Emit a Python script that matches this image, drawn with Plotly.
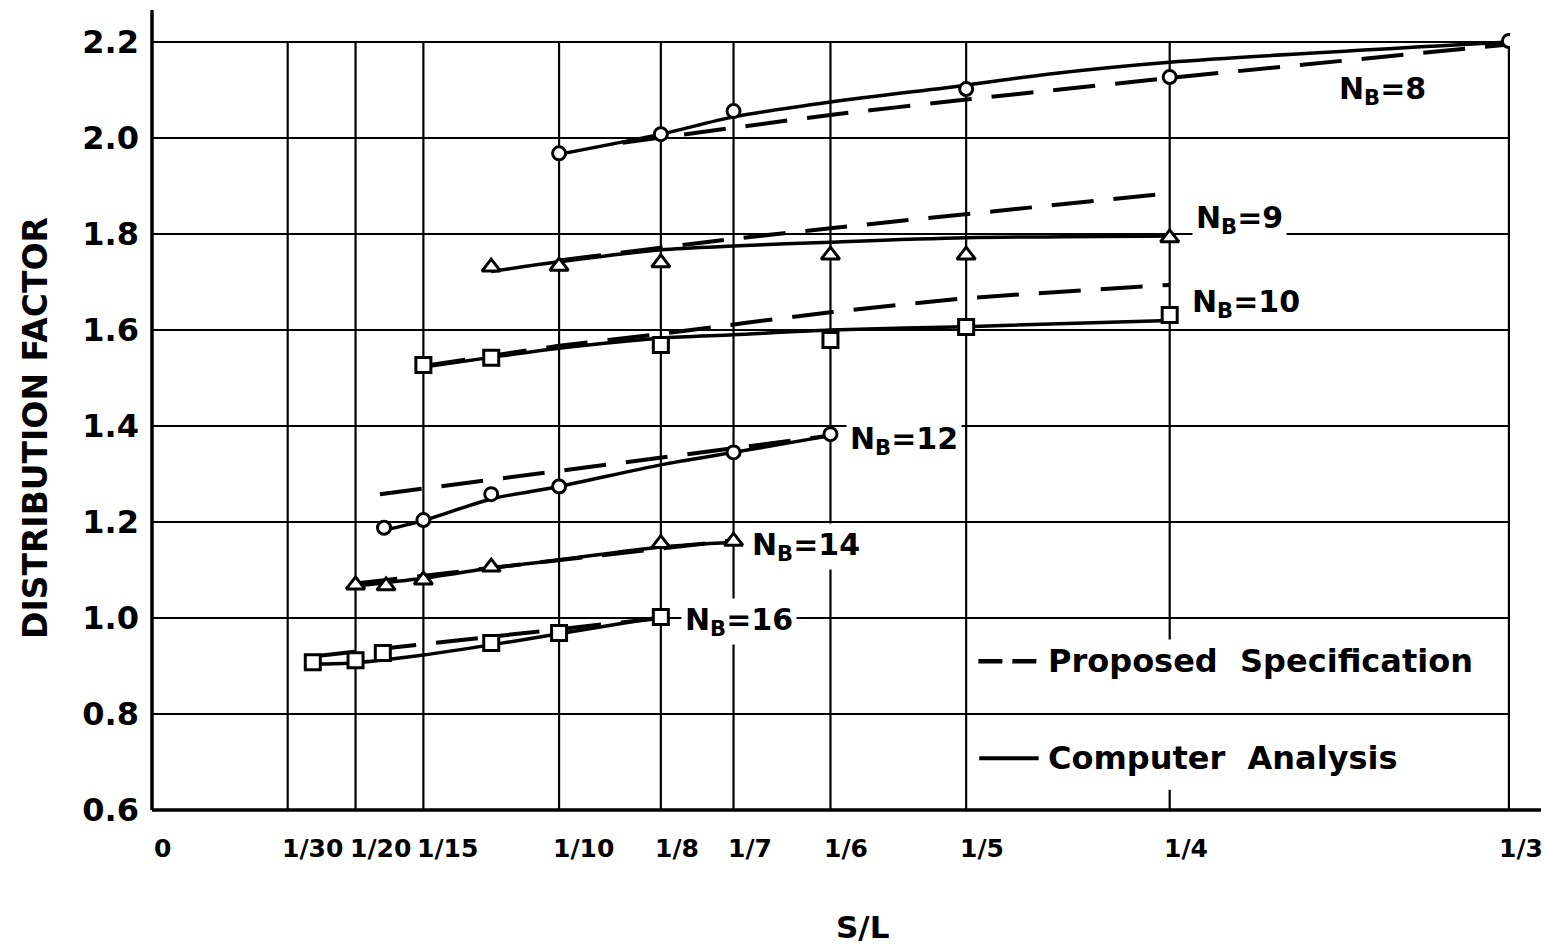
import plotly.graph_objects as go

# ---- axis ticks -------------------------------------------------------
SL_TICKS = [0, 1/30, 1/20, 1/15, 1/10, 1/8, 1/7, 1/6, 1/5, 1/4, 1/3]
SL_TICK_TEXT = ["0", "1/30", "1/20", "1/15", "1/10", "1/8", "1/7", "1/6", "1/5", "1/4", "1/3"]
DF_TICKS = [0.6, 0.8, 1.0, 1.2, 1.4, 1.6, 1.8, 2.0, 2.2]
DF_TICK_TEXT = ["0.6", "0.8", "1.0", "1.2", "1.4", "1.6", "1.8", "2.0", "2.2"]

# ---- N_B = 8 (circles) ------------------------------------------------
nb8_pts_x = [1/10, 1/8, 1/7, 1/5, 1/4, 1/3]
nb8_pts_y = [1.968, 2.008, 2.056, 2.102, 2.127, 2.202]
nb8_comp_x = [1/10, 1/8, 1/7, 1/6, 1/5, 0.22, 1/4, 1/3]
nb8_comp_y = [1.966, 2.008, 2.044, 2.075, 2.110, 2.133, 2.158, 2.200]
nb8_spec_x = [0.1156, 1/6, 1/5, 1/4, 1/3]
nb8_spec_y = [1.990, 2.048, 2.080, 2.125, 2.195]

# ---- N_B = 9 (triangles) ----------------------------------------------
nb9_pts_x = [1/12, 1/10, 1/8, 1/6, 1/5, 1/4]
nb9_pts_y = [1.731, 1.733, 1.740, 1.756, 1.756, 1.792]
nb9_comp_x = [1/12, 1/10, 1/8, 1/7, 1/6, 1/5, 1/4]
nb9_comp_y = [1.722, 1.742, 1.767, 1.775, 1.783, 1.792, 1.796]
nb9_spec_x = [1/10, 1/7, 1/6, 1/4]
nb9_spec_y = [1.745, 1.790, 1.812, 1.885]

# ---- N_B = 10 (squares) -----------------------------------------------
nb10_pts_x = [1/15, 1/12, 1/8, 1/6, 1/5, 1/4]
nb10_pts_y = [1.527, 1.542, 1.569, 1.579, 1.606, 1.631]
nb10_comp_x = [1/15, 1/12, 1/10, 1/8, 1/7, 1/6, 1/5, 1/4]
nb10_comp_y = [1.523, 1.543, 1.562, 1.583, 1.590, 1.600, 1.607, 1.620]
nb10_spec_x = [1/15, 1/10, 1/8, 1/6, 1/5, 1/4]
nb10_spec_y = [1.525, 1.567, 1.592, 1.637, 1.666, 1.694]

# ---- N_B = 12 (circles) -----------------------------------------------
nb12_pts_x = [0.057, 1/15, 1/12, 1/10, 1/7, 1/6]
nb12_pts_y = [1.188, 1.204, 1.258, 1.274, 1.345, 1.383]
nb12_comp_x = [0.057, 1/15, 1/12, 1/10, 1/8, 1/7, 1/6]
nb12_comp_y = [1.183, 1.203, 1.248, 1.274, 1.319, 1.345, 1.380]
nb12_spec_x = [0.056, 1/6]
nb12_spec_y = [1.258, 1.380]

# ---- N_B = 14 (triangles) ---------------------------------------------
nb14_pts_x = [1/20, 0.0575, 1/15, 1/12, 1/8, 1/7]
nb14_pts_y = [1.069, 1.067, 1.079, 1.106, 1.155, 1.160]
nb14_comp_x = [1/20, 1/15, 1/12, 1/10, 1/8, 1/7]
nb14_comp_y = [1.067, 1.083, 1.104, 1.121, 1.148, 1.158]
nb14_spec_x = [1/20, 1/7]
nb14_spec_y = [1.072, 1.162]

# ---- N_B = 16 (squares) -----------------------------------------------
nb16_pts_x = [0.0395, 1/20, 0.0567, 1/12, 1/10, 1/8]
nb16_pts_y = [0.908, 0.912, 0.927, 0.948, 0.969, 1.002]
nb16_comp_x = [0.0395, 1/20, 1/15, 1/12, 1/10, 1/8]
nb16_comp_y = [0.904, 0.907, 0.923, 0.944, 0.967, 1.002]
nb16_spec_x = [0.0395, 1/8]
nb16_spec_y = [0.920, 1.000]

# ---- curve labels -----------------------------------------------------
label_text = ["8", "9", "10", "12", "14", "16"]
label_x = [0.2905, 0.2555, 0.2545, 0.1705, 0.1465, 0.1300]
label_y = [2.098, 1.830, 1.655, 1.370, 1.148, 0.992]

FONT = "DejaVu Sans"
INK = "black"
X_MAX = 0.3336          # a hair past 1/3 so its grid line is kept inside
Y_MIN, Y_MAX = 0.6, 0.6 + 800 / 480

series = [
    (nb8_pts_x, nb8_pts_y, nb8_comp_x, nb8_comp_y, nb8_spec_x, nb8_spec_y, "circle", 13),
    (nb9_pts_x, nb9_pts_y, nb9_comp_x, nb9_comp_y, nb9_spec_x, nb9_spec_y, "triangle-up", 16),
    (nb10_pts_x, nb10_pts_y, nb10_comp_x, nb10_comp_y, nb10_spec_x, nb10_spec_y, "square", 15),
    (nb12_pts_x, nb12_pts_y, nb12_comp_x, nb12_comp_y, nb12_spec_x, nb12_spec_y, "circle", 13),
    (nb14_pts_x, nb14_pts_y, nb14_comp_x, nb14_comp_y, nb14_spec_x, nb14_spec_y, "triangle-up", 16),
    (nb16_pts_x, nb16_pts_y, nb16_comp_x, nb16_comp_y, nb16_spec_x, nb16_spec_y, "square", 15),
]

fig = go.Figure()

# proposed specification (dashed) and computer analysis (solid) curves
for px, py, cx, cy, sx, sy, sym, size in series:
    fig.add_trace(go.Scatter(
        x=sx, y=sy, mode="lines", showlegend=False, hoverinfo="skip",
        line=dict(color=INK, width=4, dash="42px,20px", shape="spline", smoothing=0.6)))
    fig.add_trace(go.Scatter(
        x=cx, y=cy, mode="lines", showlegend=False, hoverinfo="skip",
        line=dict(color=INK, width=3.5, shape="spline", smoothing=0.8)))

# analysis points
for px, py, cx, cy, sx, sy, sym, size in series:
    fig.add_trace(go.Scatter(
        x=px, y=py, mode="markers", showlegend=False,
        marker=dict(symbol=sym, size=size, color="white",
                    line=dict(color=INK, width=3))))

W, H = 1545, 948
ML, MR, MT, MB = 152, 35, 10, 138
PW, PH = W - ML - MR, H - MT - MB


def px_x(p):
    return (p - ML) / PW


def px_y(p):
    return (H - MB - p) / PH


annotations = []
for t, lx, ly in zip(label_text, label_x, label_y):
    annotations.append(dict(
        x=lx, y=ly, xref="x", yref="y", xanchor="left", yanchor="middle",
        text="<b>N<sub>B</sub>=" + t + "</b>", showarrow=False, bgcolor="white", borderpad=3,
        font=dict(family=FONT, size=30, color=INK)))

# S/L tick labels, set just right of their grid lines
for i, (v, t) in enumerate(zip(SL_TICKS, SL_TICK_TEXT)):
    shift = 0 if i == 0 else (-12 if i == len(SL_TICKS) - 1 else -8)
    annotations.append(dict(
        x=v, y=px_y(848), xref="x", yref="paper", xanchor="left", yanchor="middle",
        xshift=shift, text="<b>" + t + "</b>", showarrow=False,
        font=dict(family=FONT, size=25, color=INK)))

# legend block
annotations += [
    dict(x=0.2197, y=0.910, xref="x", yref="y", xanchor="left", yanchor="middle",
         text="<b>Proposed  Specification</b>", showarrow=False,
         font=dict(family=FONT, size=32, color=INK)),
    dict(x=0.2197, y=0.708, xref="x", yref="y", xanchor="left", yanchor="middle",
         text="<b>Computer  Analysis</b>", showarrow=False,
         font=dict(family=FONT, size=32, color=INK)),
    # axis titles
    dict(x=px_x(862), y=px_y(927), xref="paper", yref="paper", text="<b>S/L</b>",
         xanchor="center", yanchor="middle",
         showarrow=False, font=dict(family=FONT, size=31, color=INK)),
    dict(x=px_x(35), y=px_y(428), xref="paper", yref="paper",
         xanchor="center", yanchor="middle",
         text="<b>DISTRIBUTION FACTOR</b>", showarrow=False, textangle=-90,
         font=dict(family=FONT, size=33, color=INK)),
]

shapes = []
# vertical grid lines stop at the 2.2 line
for v in SL_TICKS[1:]:
    shapes.append(dict(type="line", xref="x", yref="y", x0=v, x1=v, y0=Y_MIN, y1=2.2,
                       line=dict(color=INK, width=2.2), layer="below"))
shapes += [
    # white panel behind the legend text
    dict(type="rect", xref="x", yref="y", x0=0.2057, x1=0.3265, y0=0.642, y1=0.955,
         fillcolor="white", line=dict(width=0), layer="below"),
    # legend samples
    dict(type="line", xref="x", yref="y", x0=0.2030, x1=0.2178, y0=0.910, y1=0.910,
         line=dict(color=INK, width=4.5, dash="24px,10px")),
    dict(type="line", xref="x", yref="y", x0=0.2032, x1=0.2178, y0=0.708, y1=0.708,
         line=dict(color=INK, width=4)),
    # axis lines: the bottom one runs a little past the last grid line
    dict(type="line", xref="paper", yref="paper", x0=0, x1=px_x(1541), y0=0, y1=0,
         line=dict(color=INK, width=3.5)),
    dict(type="line", xref="paper", yref="paper", x0=0, x1=0, y0=0, y1=1,
         line=dict(color=INK, width=3.5)),
]

fig.update_layout(
    width=W, height=H,
    margin=dict(l=ML, r=MR, t=MT, b=MB, pad=0),
    paper_bgcolor="white", plot_bgcolor="white",
    showlegend=False,
    annotations=annotations,
    shapes=shapes,
    xaxis=dict(
        range=[0, X_MAX], tickvals=SL_TICKS, showticklabels=False,
        showgrid=False, showline=False, zeroline=False, ticks="",
    ),
    yaxis=dict(
        range=[Y_MIN, Y_MAX], tickvals=DF_TICKS, ticktext=DF_TICK_TEXT,
        showgrid=True, gridcolor=INK, gridwidth=2.2, showline=False,
        zeroline=False, ticks="", ticklabelstandoff=12,
        tickfont=dict(family=FONT, size=32, color=INK, weight="bold"),
    ),
)

fig.write_html("out.html")
